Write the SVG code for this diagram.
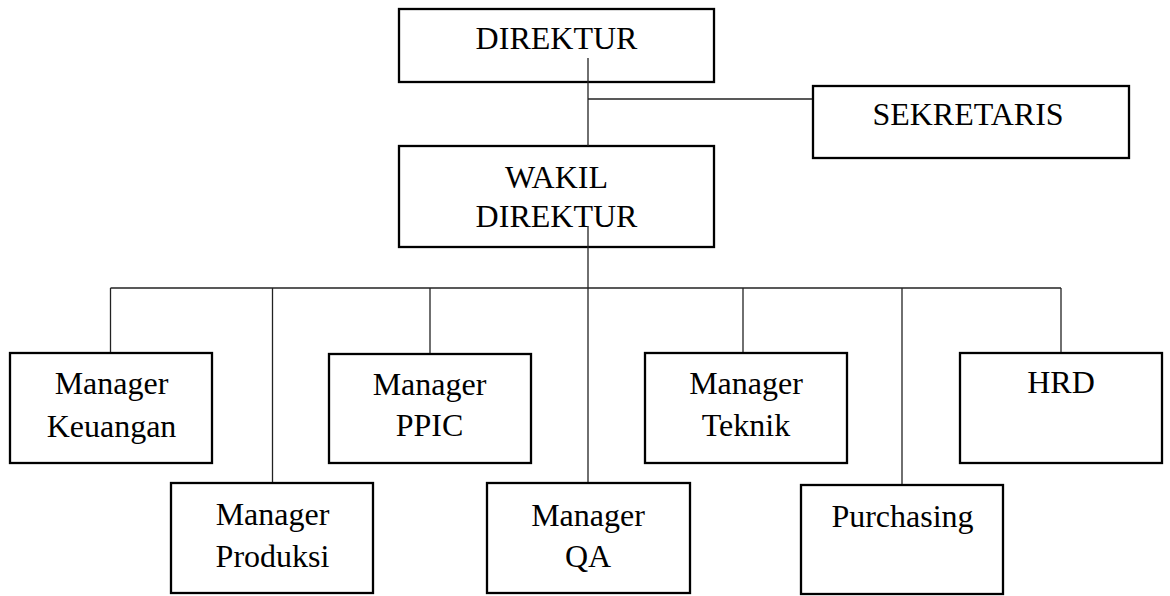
<svg xmlns="http://www.w3.org/2000/svg" width="1170" height="596" viewBox="0 0 1170 596">
<style>
.box{fill:#fff;stroke:#000;stroke-width:2.3}
.t{font-family:"Liberation Serif","Times New Roman",serif;font-size:32px;fill:#000;text-anchor:middle}
.c{stroke:#222;stroke-width:1.3;fill:none}
</style>
<rect width="1170" height="596" fill="#fff"/>
<g id="direktur">
<rect class="box" x="399" y="9" width="315" height="73"/>
<text class="t" x="556.5" y="49">DIREKTUR</text>
</g>
<g id="sekretaris">
<rect class="box" x="813" y="86" width="316" height="72"/>
<text class="t" x="968" y="125">SEKRETARIS</text>
</g>
<g id="wakil">
<rect class="box" x="399" y="146" width="315" height="101"/>
<text class="t" x="556.5" y="188">WAKIL</text>
<text class="t" x="556.5" y="227">DIREKTUR</text>
</g>
<g id="keuangan">
<rect class="box" x="10" y="353" width="202" height="110"/>
<text class="t" x="111.5" y="394">Manager</text>
<text class="t" x="111.5" y="437">Keuangan</text>
</g>
<g id="produksi">
<rect class="box" x="171" y="483" width="202" height="110"/>
<text class="t" x="272.5" y="525">Manager</text>
<text class="t" x="272.5" y="567">Produksi</text>
</g>
<g id="ppic">
<rect class="box" x="329" y="354" width="202" height="109"/>
<text class="t" x="429.5" y="395">Manager</text>
<text class="t" x="429.5" y="436">PPIC</text>
</g>
<g id="qa">
<rect class="box" x="487" y="483" width="203" height="110"/>
<text class="t" x="588" y="526">Manager</text>
<text class="t" x="588" y="567">QA</text>
</g>
<g id="teknik">
<rect class="box" x="645" y="353" width="202" height="110"/>
<text class="t" x="746" y="394">Manager</text>
<text class="t" x="746" y="436">Teknik</text>
</g>
<g id="purchasing">
<rect class="box" x="801" y="485" width="202" height="109"/>
<text class="t" x="902.5" y="527">Purchasing</text>
</g>
<g id="hrd">
<rect class="box" x="960" y="353" width="202" height="110"/>
<text class="t" x="1061" y="393">HRD</text>
</g>
<g id="connectors">
<line class="c" x1="588" y1="58" x2="588" y2="146"/>
<line class="c" x1="588" y1="99" x2="812" y2="99"/>
<line class="c" x1="588" y1="226" x2="588" y2="482"/>
<line class="c" x1="110.5" y1="288" x2="1061" y2="288"/>
<line class="c" x1="110.5" y1="288" x2="110.5" y2="352"/>
<line class="c" x1="272.5" y1="288" x2="272.5" y2="482"/>
<line class="c" x1="430" y1="288" x2="430" y2="353"/>
<line class="c" x1="743" y1="288" x2="743" y2="352"/>
<line class="c" x1="902" y1="288" x2="902" y2="484"/>
<line class="c" x1="1061" y1="288" x2="1061" y2="352"/>
</g>
</svg>
